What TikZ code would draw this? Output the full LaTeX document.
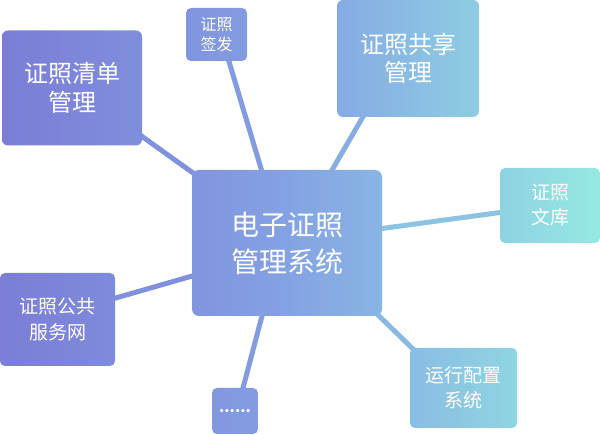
\documentclass[tikz,border=0pt]{standalone}
\usepackage{fontspec}
\newfontfamily\cjk{Noto Sans CJK SC}
\usetikzlibrary{calc,backgrounds}
\definecolor{gL}{RGB}{123,125,214}
\definecolor{gM}{RGB}{132,162,227}
\definecolor{gR}{RGB}{148,233,226}
\tikzset{
  box/.style={rectangle, rounded corners=6pt, inner sep=0pt, text=white, align=center},
  link/.style={line width=5pt, line cap=round},
}
\begin{document}
\begin{tikzpicture}[x=1pt,y=-1pt]
\useasboundingbox (0,0) rectangle (600,435);
\node[box, minimum width=140pt, minimum height=115pt, left color=gL, right color=gM!47!gL,
  font=\cjk\fontsize{24}{28.5}\selectfont] (qd) at (72,88) {证照清单\\管理};
\node[box, rounded corners=5pt, minimum width=61pt, minimum height=53pt, left color=gM!62!gL, right color=gM!82!gL,
  font=\cjk\fontsize{16}{20}\selectfont] (qf) at (216.5,34.5) {证照\\签发};
\node[box, minimum width=142pt, minimum height=117pt, left color=gR!12!gM, right color=gR!60!gM,
  font=\cjk\fontsize{24}{28.5}\selectfont] (gx) at (408,58.5) {证照共享\\管理};
\node[box, rounded corners=5pt, minimum width=100pt, minimum height=75pt, left color=gR!67!gM, right color=gR,
  font=\cjk\fontsize{19}{25}\selectfont] (wk) at (550,205.5) {证照\\文库};
\node[box, rounded corners=5pt, minimum width=115pt, minimum height=93pt, left color=gL, right color=gM!38!gL,
  font=\cjk\fontsize{19}{26}\selectfont] (gg) at (57.5,319.5) {证照公共\\服务网};
\node[box, rounded corners=5pt, minimum width=46pt, minimum height=46pt, left color=gM!71!gL, right color=gM!86!gL,
  font=\cjk\bfseries\fontsize{15}{15}\selectfont] (dt) at (235,411) {......};
\node[box, rounded corners=5pt, minimum width=107pt, minimum height=80pt, left color=gR!37!gM, right color=gR!72!gM,
  font=\cjk\fontsize{19}{25}\selectfont] (yx) at (463.5,388) {运行配置\\系统};
\node[box, rounded corners=7pt, minimum width=190pt, minimum height=146pt, left color=gM!64!gL, right color=gR!27!gM, middle color=gM,
  font=\cjk\fontsize{28}{37}\selectfont] (ct) at (287,243) {电子证照\\管理系统};
\begin{pgfonlayer}{background}
\draw[link, draw=gM!56!gL] ($(qd.south east)+(-4,-12)$) -- ($(ct.north west)+(8,8)$);
\draw[link, draw=gM!82!gL] ($(qf.south)+(11.5,-3)$) -- ($(ct.north)+(-25,2)$);
\draw[link, draw=gR!16!gM] ($(gx.south)+(-43,-4)$) -- ($(ct.north)+(44,2)$);
\draw[link, draw=gR!47!gM] ($(ct.east)+(-4,-14)$) -- ($(wk.west)+(4,6.5)$);
\draw[link, draw=gM!51!gL] ($(gg.east)+(-3,-20.5)$) -- ($(ct.west)+(4,32)$);
\draw[link, draw=gM!84!gL] ($(dt.north)+(7,4)$) -- ($(ct.south)+(-24,-4)$);
\draw[link, draw=gR!32!gM] ($(ct.south east)+(-6,-3)$) -- ($(yx.north west)+(4,2)$);
\end{pgfonlayer}
\end{tikzpicture}
\end{document}
